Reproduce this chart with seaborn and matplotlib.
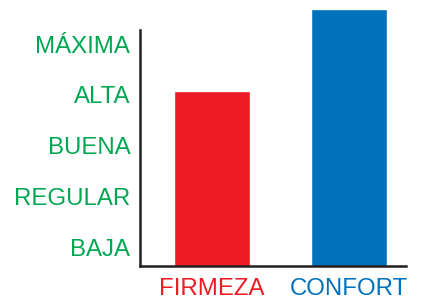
import numpy as np
import matplotlib
matplotlib.use("Agg")
import matplotlib.pyplot as plt
import seaborn as sns

# data
categories = ["FIRMEZA", "CONFORT"]
scores = [4.07, 5.69]          # 1 = BAJA ... 5 = MÁXIMA
levels = [1, 2, 3, 4, 5]
level_labels = ["BAJA", "REGULAR", "BUENA", "ALTA", "MÁXIMA"]
bar_colors = ["#ED1C24", "#0072BC"]
label_green = "#00A651"

sns.set_style("white")
plt.rcParams["font.family"] = ["Liberation Sans", "DejaVu Sans"]

fig = plt.figure(figsize=(4.22, 3.01), dpi=100)
ax = fig.add_axes([0.3318, 0.1163, 0.962 - 0.3318, 0.980 - 0.1163])

sns.barplot(x=categories, y=scores, hue=categories, palette=bar_colors,
            width=0.555, saturation=1, legend=False, ax=ax)

ax.set_ylim(0.626, 5.75)
ax.set_xlim(-0.526, 1.416)
ax.set_yticks(levels)
ax.set_yticklabels(level_labels, fontsize=17.3, color=label_green)
ax.set_xticks(range(len(categories)))
ax.set_xticklabels(categories, fontsize=17.3)
for lab, c in zip(ax.get_xticklabels(), bar_colors):
    lab.set_color(c)
ax.tick_params(axis="both", length=0)
ax.tick_params(axis="y", pad=7)
ax.tick_params(axis="x", pad=8.5)
ax.set_xlabel("")
ax.set_ylabel("")

for s in ["top", "right"]:
    ax.spines[s].set_visible(False)
for s in ["left", "bottom"]:
    ax.spines[s].set_color("#231F20")
    ax.spines[s].set_linewidth(1.8)
ax.spines["left"].set_bounds(0.626, 5.28)

fig.savefig("out.png", dpi=100)
